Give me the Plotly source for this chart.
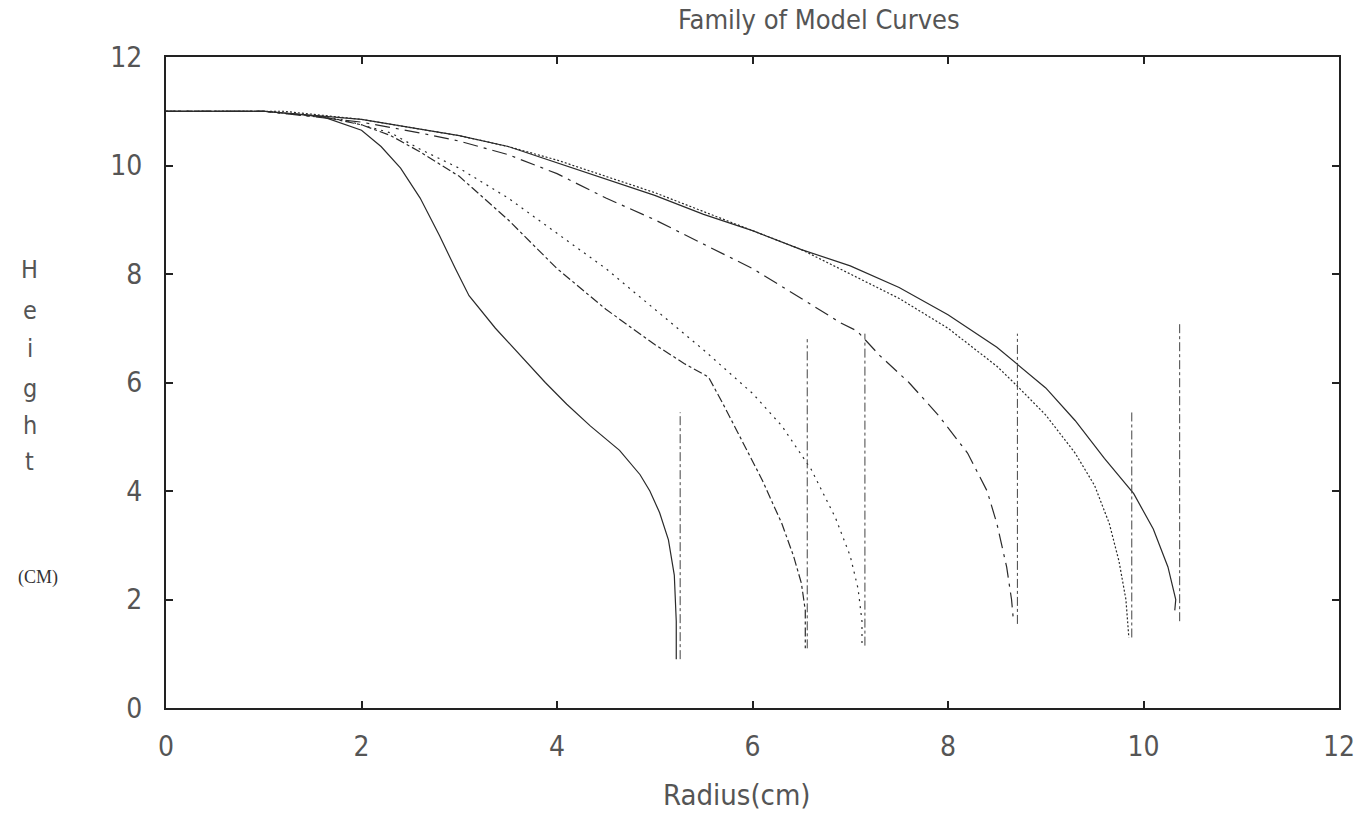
import plotly.graph_objects as go

# ---- data ----
curve_a_x = [0, 1.0, 1.6, 2.0, 2.2, 2.4, 2.6, 2.8, 2.96, 3.1, 3.37, 3.6, 3.88, 4.1, 4.34, 4.64, 4.85, 4.95, 5.05, 5.14, 5.2, 5.22, 5.22]
curve_a_y = [11, 11, 10.9, 10.65, 10.35, 9.95, 9.4, 8.7, 8.1, 7.6, 7.0, 6.55, 6.0, 5.6, 5.2, 4.75, 4.3, 4.0, 3.6, 3.1, 2.45, 1.6, 0.9]

curve_b_x = [0, 1.0, 1.6, 2.0, 2.3, 2.6, 3.0, 3.5, 4.0, 4.5, 5.0, 5.3, 5.55, 5.7, 5.9, 6.1, 6.3, 6.42, 6.5, 6.54, 6.54]
curve_b_y = [11, 11, 10.9, 10.75, 10.55, 10.25, 9.8, 9.0, 8.1, 7.35, 6.7, 6.35, 6.1, 5.6, 4.9, 4.2, 3.4, 2.8, 2.3, 1.8, 1.1]

curve_c_x = [0, 1.0, 1.8, 2.3, 2.6, 3.0, 3.5, 4.0, 4.5, 5.0, 5.5, 6.0, 6.3, 6.6, 6.85, 7.0, 7.08, 7.12, 7.12]
curve_c_y = [11, 11, 10.85, 10.6, 10.3, 9.95, 9.4, 8.75, 8.1, 7.35, 6.6, 5.8, 5.2, 4.4, 3.5, 2.8, 2.2, 1.6, 1.15]

curve_d_x = [0, 1.0, 2.0, 2.6, 3.0, 3.5, 4.0, 4.5, 5.0, 5.5, 6.0, 6.5, 6.9, 7.07, 7.3, 7.6, 7.9, 8.2, 8.4, 8.5, 8.6, 8.65, 8.67]
curve_d_y = [11, 11, 10.8, 10.6, 10.45, 10.2, 9.85, 9.4, 9.0, 8.55, 8.1, 7.55, 7.1, 6.95, 6.5, 6.0, 5.4, 4.7, 4.0, 3.4, 2.6, 2.0, 1.6]

curve_e_x = [0, 1.2, 2.0, 3.0, 3.5, 4.0, 4.5, 5.0, 5.5, 6.0, 6.5, 7.0, 7.5, 8.0, 8.5, 8.7, 9.0, 9.3, 9.5, 9.65, 9.75, 9.82, 9.85]
curve_e_y = [11, 11, 10.85, 10.55, 10.35, 10.1, 9.8, 9.5, 9.15, 8.8, 8.45, 8.0, 7.55, 7.0, 6.3, 5.95, 5.4, 4.7, 4.1, 3.4, 2.7, 2.0, 1.3]

curve_f_x = [0, 1.0, 2.0, 2.5, 3.0, 3.5, 4.0, 4.5, 5.0, 5.5, 6.0, 6.5, 7.0, 7.5, 8.0, 8.5, 9.0, 9.3, 9.6, 9.9, 10.1, 10.25, 10.33, 10.32]
curve_f_y = [11, 11, 10.85, 10.7, 10.55, 10.35, 10.05, 9.75, 9.45, 9.1, 8.8, 8.45, 8.15, 7.75, 7.25, 6.65, 5.9, 5.3, 4.6, 3.95, 3.3, 2.6, 2.0, 1.8]

marker_x = [5.26, 6.56, 7.15, 8.71, 9.88, 10.37]
marker_low = [0.9, 1.1, 1.15, 1.55, 1.3, 1.6]
marker_high = [5.45, 6.8, 6.9, 6.9, 5.5, 7.1]

tick_vals = [0, 2, 4, 6, 8, 10, 12]
tick_text = ["0", "2", "4", "6", "8", "10", "12"]

curves = [
    (curve_a_x, curve_a_y, "solid"),
    (curve_b_x, curve_b_y, "dashdot"),
    (curve_c_x, curve_c_y, "2px,5px"),
    (curve_d_x, curve_d_y, "longdashdot"),
    (curve_e_x, curve_e_y, "2px,2px"),
    (curve_f_x, curve_f_y, "solid"),
]

fig = go.Figure()
for cx, cy, dash in curves:
    fig.add_trace(go.Scatter(x=cx, y=cy, mode="lines",
                             line=dict(color="#2a2a2a", width=1.2, dash=dash),
                             showlegend=False, hoverinfo="skip"))

for mx, lo, hi in zip(marker_x, marker_low, marker_high):
    fig.add_trace(go.Scatter(x=[mx, mx], y=[lo, hi], mode="lines",
                             line=dict(color="#444444", width=1, dash="dashdot"),
                             showlegend=False, hoverinfo="skip"))

label_font = dict(family="DejaVu Sans Condensed, Liberation Sans Narrow, DejaVu Sans, sans-serif",
                  size=28, color="#555555")

axis_common = dict(range=[0, 12], tickvals=tick_vals, ticktext=tick_text,
                   showgrid=False, zeroline=False, showline=True, linecolor="#222222",
                   linewidth=2, mirror="ticks", ticks="inside", ticklen=7,
                   tickcolor="#222222", tickwidth=1.5, tickfont=label_font)

fig.update_layout(
    width=1359, height=824,
    margin=dict(l=166, r=20, t=57, b=116, autoexpand=False),
    paper_bgcolor="white", plot_bgcolor="white",
    xaxis=dict(**axis_common, ticklabelstandoff=12, automargin=False),
    yaxis=dict(**axis_common, ticklabelstandoff=16, automargin=False),
)

text_font = dict(family="DejaVu Sans Condensed, Liberation Sans Narrow, DejaVu Sans, sans-serif",
                 size=25, color="#555555")

annotations = [
    dict(text="Family of Model Curves", x=0.557, y=1.057,
         font=dict(text_font, size=27)),
    dict(text="Radius(cm)", x=0.487, y=-0.134,
         font=dict(text_font, size=29)),
    dict(text="(CM)", x=-0.109, y=0.200,
         font=dict(family="Liberation Serif, DejaVu Serif, serif", size=18, color="#333333")),
]
letters = ["H", "e", "i", "g", "h", "t"]
letter_y = [0.673, 0.611, 0.552, 0.4915, 0.4347, 0.378]
for ch, ly in zip(letters, letter_y):
    annotations.append(dict(text=ch, x=-0.116, y=ly, font=text_font))

for a in annotations:
    fig.add_annotation(xref="paper", yref="paper", showarrow=False,
                       xanchor="center", yanchor="middle", **a)

fig.write_html("out.html", config={"displayModeBar": False},
               post_script="document.body.style.margin='0';")
